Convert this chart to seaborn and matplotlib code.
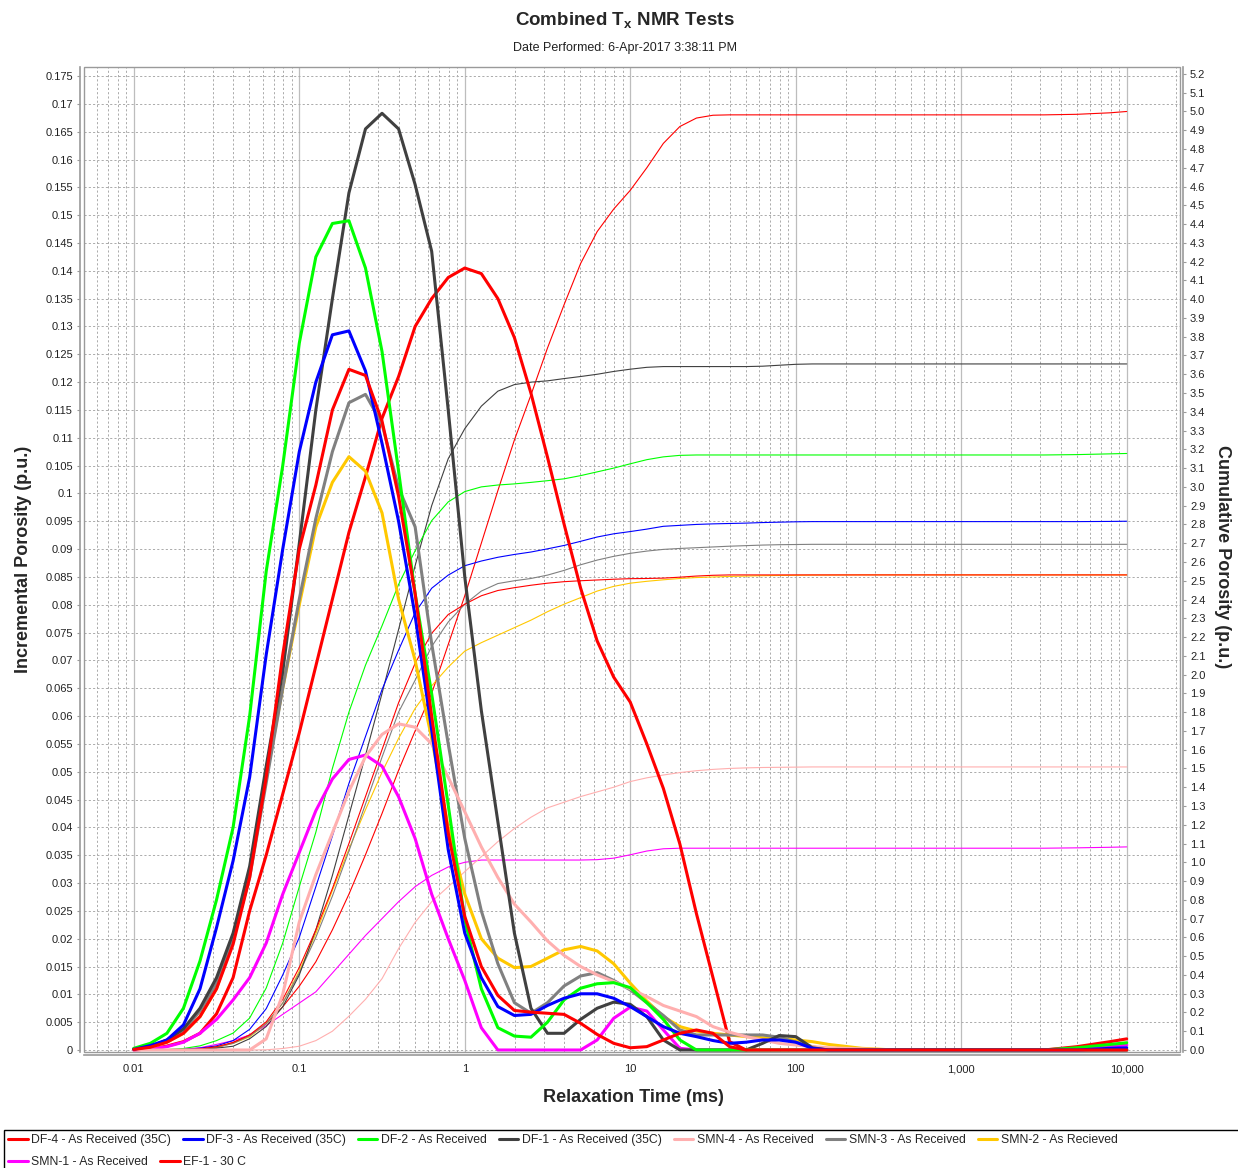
import matplotlib
matplotlib.use("Agg")
import matplotlib.pyplot as plt
from matplotlib.ticker import MultipleLocator, FuncFormatter, LogLocator, NullFormatter, NullLocator
from matplotlib.patches import Rectangle
import seaborn as sns

# Relaxation-time bins (ms)
t2_ms = [0.01, 0.01259, 0.01585, 0.01995, 0.02512, 0.03162, 0.03981, 0.05012, 0.0631, 0.07943,
         0.1, 0.1259, 0.1585, 0.1995, 0.2512, 0.3162, 0.3981, 0.5012, 0.631, 0.7943,
         1.0, 1.259, 1.585, 1.995, 2.512, 3.162, 3.981, 5.012, 6.31, 7.943,
         10.0, 12.59, 15.85, 19.95, 25.12, 31.62, 39.81, 50.12, 63.1, 79.43,
         100.0, 125.9, 158.5, 251.2, 398.1, 1000.0, 3162.0, 5012.0, 7943.0, 10000.0]

# Incremental porosity (p.u.)
df4_inc = [0.0001, 0.0005, 0.0014, 0.003, 0.006, 0.011, 0.019, 0.031, 0.049, 0.071,
           0.090, 0.1015, 0.115, 0.1223, 0.1212, 0.113, 0.0995, 0.082, 0.060, 0.039,
           0.024, 0.015, 0.0098, 0.0071, 0.0068, 0.0066, 0.0064, 0.0048, 0.0028, 0.0012,
           0.0004, 0.0006, 0.0018, 0.003, 0.0036, 0.003, 0.0006, 0, 0, 0,
           0, 0, 0, 0, 0, 0, 0, 0, 0, 0]
df3_inc = [0.0001, 0.0008, 0.0018, 0.0045, 0.011, 0.022, 0.034, 0.049, 0.071, 0.090,
           0.1075, 0.120, 0.1285, 0.1292, 0.122, 0.109, 0.095, 0.078, 0.0575, 0.036,
           0.021, 0.013, 0.0078, 0.0062, 0.0064, 0.008, 0.0093, 0.0101, 0.0101, 0.0093,
           0.0078, 0.006, 0.0042, 0.003, 0.0024, 0.0017, 0.0012, 0.0014, 0.0018, 0.0018,
           0.0014, 0.0003, 0, 0, 0, 0, 0, 0, 0.0003, 0.0004]
df2_inc = [0.0003, 0.0012, 0.003, 0.0075, 0.016, 0.027, 0.040, 0.060, 0.086, 0.105,
           0.127, 0.1425, 0.1485, 0.149, 0.1405, 0.1255, 0.104, 0.082, 0.064, 0.044,
           0.0234, 0.011, 0.004, 0.0025, 0.0023, 0.005, 0.009, 0.0111, 0.0119, 0.0121,
           0.0112, 0.0085, 0.0055, 0.0018, 0, 0, 0, 0, 0, 0,
           0, 0, 0, 0, 0, 0, 0, 0.0004, 0.001, 0.0013]
df1_inc = [0.0002, 0.0006, 0.0018, 0.0038, 0.0075, 0.013, 0.021, 0.033, 0.051, 0.068,
           0.091, 0.115, 0.135, 0.154, 0.1655, 0.1683, 0.1655, 0.1555, 0.1435, 0.115,
           0.085, 0.061, 0.041, 0.021, 0.0075, 0.003, 0.003, 0.0055, 0.0075, 0.0086,
           0.0082, 0.006, 0.0018, 0, 0, 0, 0, 0, 0.0012, 0.0026,
           0.0024, 0.0004, 0, 0, 0, 0, 0, 0, 0, 0]
smn4_inc = [0, 0, 0, 0, 0, 0, 0, 0, 0.002, 0.010,
            0.023, 0.0315, 0.039, 0.0465, 0.0527, 0.0567, 0.0586, 0.058, 0.055, 0.049,
            0.0428, 0.0365, 0.031, 0.0262, 0.023, 0.0196, 0.017, 0.015, 0.0135, 0.0123,
            0.011, 0.0096, 0.008, 0.007, 0.006, 0.0042, 0.0032, 0.0024, 0.0018, 0.0012,
            0.0009, 0.0006, 0.0004, 0.0002, 0, 0, 0, 0, 0, 0]
smn3_inc = [0.0002, 0.0006, 0.0016, 0.0035, 0.007, 0.012, 0.020, 0.031, 0.048, 0.065,
            0.081, 0.0955, 0.1075, 0.1163, 0.1178, 0.1125, 0.101, 0.094, 0.073, 0.055,
            0.038, 0.025, 0.0155, 0.0085, 0.0066, 0.0085, 0.0115, 0.0133, 0.0139, 0.0125,
            0.0108, 0.0085, 0.0062, 0.0036, 0.0027, 0.0027, 0.0027, 0.0027, 0.0027, 0.0023,
            0.0014, 0.0006, 0, 0, 0, 0, 0, 0, 0, 0]
smn2_inc = [0.0001, 0.0005, 0.0014, 0.003, 0.006, 0.011, 0.020, 0.032, 0.049, 0.065,
            0.080, 0.094, 0.102, 0.1066, 0.104, 0.0965, 0.081, 0.070, 0.056, 0.040,
            0.028, 0.020, 0.0165, 0.0148, 0.015, 0.0165, 0.018, 0.0186, 0.0178, 0.0155,
            0.012, 0.0088, 0.006, 0.0042, 0.0034, 0.003, 0.0027, 0.0024, 0.0022, 0.0021,
            0.0018, 0.0015, 0.001, 0.0003, 0, 0, 0, 0, 0, 0]
smn1_inc = [0, 0.0002, 0.0006, 0.0014, 0.003, 0.0055, 0.009, 0.013, 0.0192, 0.028,
            0.0355, 0.043, 0.0487, 0.0522, 0.053, 0.051, 0.0455, 0.038, 0.028, 0.020,
            0.0125, 0.004, 0, 0, 0, 0, 0, 0, 0.0018, 0.0057,
            0.0077, 0.007, 0.0036, 0.0003, 0, 0, 0, 0, 0, 0,
            0, 0, 0, 0, 0, 0, 0, 0.0003, 0.0007, 0.0009]
ef1_inc = [0, 0.0002, 0.0007, 0.0015, 0.003, 0.0065, 0.013, 0.025, 0.035, 0.046,
           0.057, 0.069, 0.081, 0.093, 0.103, 0.1135, 0.121, 0.130, 0.135, 0.1388,
           0.1405, 0.1395, 0.135, 0.128, 0.118, 0.1065, 0.0945, 0.083, 0.0735, 0.067,
           0.0625, 0.055, 0.047, 0.037, 0.0245, 0.013, 0.0015, 0, 0, 0,
           0, 0, 0, 0, 0, 0, 0, 0.0006, 0.0015, 0.002]

# Cumulative porosity (p.u.)
df4_cum = [0, 0, 0, 0.002, 0.006, 0.018, 0.04, 0.08, 0.15, 0.27,
           0.44, 0.64, 0.86, 1.10, 1.35, 1.60, 1.85, 2.06, 2.22, 2.32,
           2.375, 2.42, 2.448, 2.463, 2.476, 2.487, 2.495, 2.50, 2.504, 2.508,
           2.511, 2.512, 2.514, 2.519, 2.525, 2.529, 2.531, 2.531, 2.531, 2.531,
           2.531, 2.531, 2.531, 2.531, 2.531, 2.531, 2.531, 2.531, 2.531, 2.531]
df3_cum = [0, 0, 0.001, 0.003, 0.01, 0.022, 0.05, 0.11, 0.22, 0.40,
           0.60, 0.87, 1.14, 1.42, 1.67, 1.92, 2.13, 2.33, 2.46, 2.53,
           2.58, 2.605, 2.625, 2.64, 2.653, 2.67, 2.688, 2.71, 2.733, 2.75,
           2.762, 2.775, 2.79, 2.795, 2.80, 2.803, 2.805, 2.807, 2.81, 2.812,
           2.814, 2.815, 2.815, 2.815, 2.815, 2.815, 2.815, 2.815, 2.816, 2.817]
df2_cum = [0, 0, 0.002, 0.008, 0.022, 0.05, 0.09, 0.17, 0.33, 0.57,
           0.87, 1.16, 1.50, 1.80, 2.05, 2.26, 2.48, 2.66, 2.82, 2.92,
           2.975, 3.00, 3.01, 3.016, 3.024, 3.033, 3.043, 3.06, 3.08, 3.10,
           3.123, 3.145, 3.16, 3.168, 3.17, 3.17, 3.17, 3.17, 3.17, 3.17,
           3.17, 3.17, 3.17, 3.17, 3.17, 3.17, 3.17, 3.172, 3.176, 3.178]
df1_cum = [0, 0, 0.001, 0.003, 0.006, 0.01, 0.02, 0.06, 0.125, 0.23,
           0.40, 0.64, 0.93, 1.25, 1.57, 1.90, 2.24, 2.58, 2.90, 3.15,
           3.31, 3.43, 3.51, 3.545, 3.558, 3.565, 3.577, 3.588, 3.60, 3.615,
           3.627, 3.637, 3.641, 3.641, 3.641, 3.641, 3.641, 3.641, 3.643, 3.648,
           3.653, 3.655, 3.655, 3.655, 3.655, 3.655, 3.655, 3.655, 3.655, 3.655]
smn4_cum = [0, 0, 0, 0, 0, 0, 0, 0, 0.001, 0.008,
            0.02, 0.05, 0.10, 0.18, 0.27, 0.38, 0.54, 0.68, 0.79, 0.87,
            0.95, 1.03, 1.11, 1.18, 1.24, 1.29, 1.32, 1.35, 1.375, 1.40,
            1.43, 1.45, 1.465, 1.478, 1.488, 1.495, 1.50, 1.503, 1.505, 1.506,
            1.507, 1.508, 1.508, 1.508, 1.508, 1.508, 1.508, 1.508, 1.508, 1.508]
smn3_cum = [0, 0, 0.001, 0.002, 0.005, 0.015, 0.035, 0.075, 0.14, 0.25,
            0.41, 0.60, 0.82, 1.06, 1.31, 1.56, 1.80, 1.97, 2.15, 2.28,
            2.375, 2.445, 2.485, 2.50, 2.512, 2.53, 2.555, 2.585, 2.61, 2.63,
            2.646, 2.658, 2.667, 2.672, 2.676, 2.68, 2.684, 2.687, 2.69, 2.692,
            2.693, 2.694, 2.694, 2.694, 2.694, 2.694, 2.694, 2.694, 2.694, 2.694]
smn2_cum = [0, 0, 0, 0.002, 0.005, 0.015, 0.035, 0.07, 0.14, 0.25,
            0.42, 0.62, 0.85, 1.07, 1.28, 1.48, 1.66, 1.82, 1.94, 2.04,
            2.125, 2.17, 2.21, 2.25, 2.29, 2.335, 2.375, 2.41, 2.445, 2.47,
            2.487, 2.497, 2.505, 2.512, 2.517, 2.52, 2.523, 2.525, 2.527, 2.528,
            2.529, 2.53, 2.53, 2.531, 2.531, 2.531, 2.531, 2.531, 2.531, 2.531]
smn1_cum = [0, 0, 0.002, 0.005, 0.012, 0.03, 0.05, 0.08, 0.13, 0.19,
            0.25, 0.31, 0.41, 0.51, 0.61, 0.70, 0.79, 0.87, 0.93, 0.975,
            1.0, 1.012, 1.012, 1.012, 1.012, 1.012, 1.012, 1.012, 1.014, 1.022,
            1.04, 1.06, 1.072, 1.075, 1.075, 1.075, 1.075, 1.075, 1.075, 1.075,
            1.075, 1.075, 1.075, 1.075, 1.075, 1.075, 1.075, 1.077, 1.08, 1.082]
ef1_cum = [0, 0, 0, 0.001, 0.003, 0.012, 0.04, 0.08, 0.14, 0.23,
           0.34, 0.47, 0.64, 0.83, 1.04, 1.26, 1.49, 1.70, 1.90, 2.16,
           2.42, 2.70, 2.98, 3.25, 3.49, 3.74, 3.97, 4.19, 4.36, 4.48,
           4.58, 4.70, 4.83, 4.92, 4.965, 4.98, 4.982, 4.982, 4.982, 4.982,
           4.982, 4.982, 4.982, 4.982, 4.982, 4.982, 4.982, 4.985, 4.993, 5.0]

sample_names = ["DF-4 - As Received (35C)", "DF-3 - As Received (35C)", "DF-2 - As Received",
                "DF-1 - As Received (35C)", "SMN-4 - As Received", "SMN-3 - As Received",
                "SMN-2 - As Recieved", "SMN-1 - As Received", "EF-1 - 30 C"]
sample_colors = ["#ff0000", "#0000ff", "#00ff00", "#404040", "#ffafaf",
                 "#808080", "#ffc800", "#ff00ff", "#ff0000"]
inc_series = [df4_inc, df3_inc, df2_inc, df1_inc, smn4_inc, smn3_inc, smn2_inc, smn1_inc, ef1_inc]
cum_series = [df4_cum, df3_cum, df2_cum, df1_cum, smn4_cum, smn3_cum, smn2_cum, smn1_cum, ef1_cum]

x_ticks = [0.01, 0.1, 1, 10, 100, 1000, 10000]
x_tick_labels = ["0.01", "0.1", "1", "10", "100", "1,000", "10,000"]

sns.set_style("white")
plt.rcParams["font.family"] = ["Liberation Sans", "DejaVu Sans"]
plt.rcParams["mathtext.fontset"] = "custom"
plt.rcParams["mathtext.rm"] = "Liberation Sans"
plt.rcParams["mathtext.bf"] = "Liberation Sans:bold"

W, H = 1238, 1168
INC_LIM = (-0.00036, 0.17662)
CUM_LIM = (-0.0107, 5.237)

fig = plt.figure(figsize=(W / 100, H / 100), dpi=100)
fig.patch.set_facecolor("white")
ax = fig.add_axes([84 / W, 1 - 1052 / H, (1180 - 84) / W, (1052 - 67) / H])   # grid + left axis
ax.set_xscale("log")
ax_cum = ax.twinx()    # cumulative curves + right axis
ax_inc = ax.twinx()    # incremental curves, drawn on top
ax_inc.yaxis.set_major_locator(NullLocator())

# first series ends up on top, so draw in reverse order
handles = {}
for idx in reversed(range(len(sample_names))):
    sns.lineplot(x=t2_ms, y=cum_series[idx], ax=ax_cum, color=sample_colors[idx],
                 linewidth=0.8, legend=False)
    sns.lineplot(x=t2_ms, y=inc_series[idx], ax=ax_inc, color=sample_colors[idx],
                 linewidth=2.2, legend=False)
    handles[idx] = ax_inc.lines[-1]
handles = [handles[i] for i in range(len(sample_names))]

ax.set_xlim(0.005, 21000)
ax.set_ylim(*INC_LIM)
ax_inc.set_ylim(*INC_LIM)
ax_cum.set_ylim(*CUM_LIM)
for a in (ax, ax_cum, ax_inc):
    a.set_xlabel("")
    a.set_ylabel("")

ax.set_xticks(x_ticks, labels=x_tick_labels)
ax.xaxis.set_minor_locator(LogLocator(base=10, subs=[2, 3, 4, 5, 6, 7, 8, 9], numticks=100))
ax.xaxis.set_minor_formatter(NullFormatter())
ax.yaxis.set_major_locator(MultipleLocator(0.005))
ax.yaxis.set_major_formatter(FuncFormatter(lambda v, p: f"{v:.3f}".rstrip("0").rstrip(".")))
ax_cum.yaxis.set_major_locator(MultipleLocator(0.1))
ax_cum.yaxis.set_major_formatter(FuncFormatter(lambda v, p: f"{v:.1f}"))

# grid: solid decades, dashed sub-decades and porosity levels
ax.grid(which="major", axis="x", color="#bdbdbd", linestyle="-", linewidth=0.9)
ax.grid(which="minor", axis="x", color="#ababab", linestyle=(0, (2.2, 2.2)), linewidth=0.7)
ax.grid(which="major", axis="y", color="#ababab", linestyle=(0, (2.2, 2.2)), linewidth=0.7)
ax.set_axisbelow(True)

axis_gray = "#9a9a9a"
for a in (ax, ax_cum, ax_inc):
    for s in a.spines.values():
        s.set_visible(False)
ax.spines["left"].set_visible(True)
ax.spines["left"].set_position(("outward", 3))
ax.spines["bottom"].set_visible(True)
ax.spines["bottom"].set_position(("outward", 2.2))
ax_cum.spines["right"].set_visible(True)
ax_cum.spines["right"].set_position(("outward", 2.2))
for s in (ax.spines["left"], ax.spines["bottom"], ax_cum.spines["right"]):
    s.set_color(axis_gray)
    s.set_linewidth(1.2)
ax_inc.add_patch(Rectangle((0, 0), 1, 1, transform=ax_inc.transAxes, fill=False,
                           edgecolor=axis_gray, linewidth=1.0, clip_on=False, zorder=5))

ax.tick_params(axis="both", which="major", direction="out", length=2.5, width=0.8,
               color=axis_gray, labelsize=8, pad=2.5, labelcolor="#222222")
ax.tick_params(axis="x", which="minor", length=0)
ax.tick_params(axis="x", which="major", pad=4)
ax_cum.tick_params(axis="y", direction="out", length=2.5, width=0.8, color=axis_gray,
                   labelsize=8, pad=2.5, labelcolor="#222222")
ax_inc.tick_params(axis="both", which="both", length=0, labelright=False, labelbottom=False)

# titles and axis labels
fig.text(0.505, 1 - 21 / H, r"Combined T$_\mathbf{x}$ NMR Tests", ha="center", va="center",
         fontsize=13.5, fontweight="bold")
fig.text(0.505, 1 - 48 / H, "Date Performed: 6-Apr-2017 3:38:11 PM", ha="center", va="center",
         fontsize=9, color="#222222")
fig.text(633 / W, 1 - 1098 / H, "Relaxation Time (ms)", ha="center", va="center",
         fontsize=13, fontweight="bold")
fig.text(24 / W, 1 - 559 / H, "Incremental Porosity (p.u.)", ha="center", va="center",
         rotation=90, fontsize=13, fontweight="bold")
fig.text(1222 / W, 1 - 557 / H, "Cumulative Porosity (p.u.)", ha="center", va="center",
         rotation=270, fontsize=13, fontweight="bold")

# legend strip
leg_kw = dict(frameon=False, fontsize=8.8, handlelength=1.6, handletextpad=0.3,
              columnspacing=0.97, borderpad=0, borderaxespad=0, loc="center left")
fig.legend(handles[:7], sample_names[:7], ncol=7, bbox_to_anchor=(8 / W, 1 - 1140 / H), **leg_kw)
fig.legend(handles[7:], sample_names[7:], ncol=2, bbox_to_anchor=(8 / W, 1 - 1162 / H), **leg_kw)
fig.add_artist(Rectangle((4 / W, -0.01), 1.0, (1168 - 1130) / H + 0.01, transform=fig.transFigure,
                         fill=False, edgecolor="black", linewidth=1.0))

fig.savefig("out.png", dpi=100, facecolor="white")
